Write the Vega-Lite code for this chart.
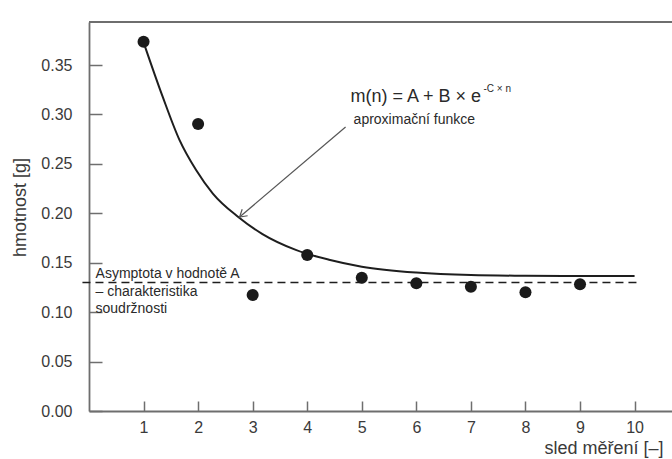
{
  "$schema": "https://vega.github.io/schema/vega-lite/v6.json",
  "width": 583,
  "height": 389,
  "autosize": {"type": "none"},
  "padding": {"left": 89, "top": 22, "right": 0, "bottom": 48},
  "background": "#ffffff",
  "config": {
    "view": {"stroke": null},
    "font": "Liberation Sans",
    "axis": {"grid": false, "labelFlush": false, "labelOverlap": false, "labelBound": false}
  },
  "datasets": {
    "measurements": [
      {"n": 1, "m": 0.3736},
      {"n": 2, "m": 0.2903},
      {"n": 3, "m": 0.1173},
      {"n": 4, "m": 0.1578},
      {"n": 5, "m": 0.1348},
      {"n": 6, "m": 0.1292},
      {"n": 7, "m": 0.1257},
      {"n": 8, "m": 0.1201},
      {"n": 9, "m": 0.1282}
    ],
    "fit": [
      {"n": 1.0, "m": 0.373},
      {"n": 1.35, "m": 0.318},
      {"n": 1.66, "m": 0.274},
      {"n": 1.96, "m": 0.244},
      {"n": 2.27, "m": 0.22},
      {"n": 2.73, "m": 0.1965},
      {"n": 3.18, "m": 0.179},
      {"n": 3.79, "m": 0.163},
      {"n": 4.4, "m": 0.153},
      {"n": 5.0, "m": 0.146},
      {"n": 6.0, "m": 0.14},
      {"n": 7.0, "m": 0.1375},
      {"n": 8.0, "m": 0.1368},
      {"n": 9.0, "m": 0.1365},
      {"n": 10.0, "m": 0.1365}
    ]
  },
  "encoding": {
    "x": {
      "field": "n",
      "type": "quantitative",
      "scale": {"domain": [0, 10.686], "nice": false, "zero": false},
      "axis": {
        "values": [1, 2, 3, 4, 5, 6, 7, 8, 9, 10],
        "tickSize": -10,
        "tickWidth": 1.5,
        "tickColor": "#6e6e6e",
        "domainColor": "#6e6e6e",
        "domainWidth": 1.8,
        "labelPadding": 18,
        "labelFontSize": 16,
        "labelColor": "#3a3a3a",
        "title": "sled měření [–]",
        "titleFontSize": 18,
        "titleFontWeight": "normal",
        "titleColor": "#3a3a3a",
        "titleX": 574,
        "titleY": 37,
        "titleAlign": "right",
        "titleBaseline": "middle",
        "titleAnchor": null
      }
    },
    "y": {
      "field": "m",
      "type": "quantitative",
      "scale": {"domain": [0, 0.3935], "nice": false, "zero": false},
      "axis": {
        "values": [0, 0.05, 0.1, 0.15, 0.2, 0.25, 0.3, 0.35],
        "format": ".2f",
        "tickSize": -13,
        "tickWidth": 1.5,
        "tickColor": "#6e6e6e",
        "domainColor": "#6e6e6e",
        "domainWidth": 1.8,
        "labelPadding": 30,
        "labelFontSize": 16,
        "labelColor": "#3a3a3a",
        "title": "hmotnost [g]",
        "titleFontSize": 18,
        "titleFontWeight": "normal",
        "titleColor": "#3a3a3a",
        "titleX": -69,
        "titleY": 185,
        "titleAngle": -90,
        "titleAlign": "center",
        "titleBaseline": "middle"
      }
    }
  },
  "layer": [
    {
      "data": {"values": [{"n": 0, "n2": 10.686, "m": 0.3935}]},
      "mark": {"type": "rule", "stroke": "#6e6e6e", "strokeWidth": 1.8},
      "encoding": {"x2": {"field": "n2"}}
    },
    {
      "data": {"values": [{"n": -0.12, "n2": 10.1, "m": 0.13}]},
      "mark": {"type": "rule", "stroke": "#1e1e1e", "strokeWidth": 1.5, "strokeDash": [8, 5]},
      "encoding": {"x2": {"field": "n2"}}
    },
    {
      "data": {"name": "fit"},
      "mark": {"type": "line", "stroke": "#1e1e1e", "strokeWidth": 2, "interpolate": "monotone"},
      "encoding": {}
    },
    {
      "data": {"values": [{"n": 4.703, "m": 0.2873, "n2": 2.76, "m2": 0.1962}]},
      "mark": {"type": "rule", "stroke": "#555555", "strokeWidth": 1.2},
      "encoding": {"x2": {"field": "n2"}, "y2": {"field": "m2"}}
    },
    {
      "data": {"values": [{"n": 2.76, "m": 0.1962}]},
      "mark": {"type": "point", "shape": "M -1 -0.6 L 0 0 L -1 0.6", "filled": false, "stroke": "#555555", "strokeWidth": 1.2, "size": 196, "angle": 139.7, "opacity": 1},
      "encoding": {}
    },
    {
      "data": {"name": "measurements"},
      "mark": {"type": "circle", "size": 145, "color": "#1a1a1a", "opacity": 1},
      "encoding": {}
    },
    {
      "data": {"values": [{"n": 4.794, "m": 0.3126, "label": "m(n) = A + B × e"}]},
      "mark": {"type": "text", "align": "left", "baseline": "alphabetic", "fontSize": 18, "color": "#2a2a2a"},
      "encoding": {"text": {"field": "label"}}
    },
    {
      "data": {"values": [{"n": 7.23, "m": 0.3227, "label": "-C × n"}]},
      "mark": {"type": "text", "align": "left", "baseline": "alphabetic", "fontSize": 10, "color": "#2a2a2a"},
      "encoding": {"text": {"field": "label"}}
    },
    {
      "data": {"values": [{"n": 4.85, "m": 0.2903, "label": "aproximační funkce"}]},
      "mark": {"type": "text", "align": "left", "baseline": "alphabetic", "fontSize": 14, "color": "#2a2a2a"},
      "encoding": {"text": {"field": "label"}}
    },
    {
      "data": {"values": [{"n": 0.12, "m": 0.1345, "label": ["Asymptota v hodnotě A", "– charakteristika", "soudržnosti"]}]},
      "mark": {"type": "text", "align": "left", "baseline": "alphabetic", "fontSize": 14, "lineHeight": 17.5, "color": "#2a2a2a"},
      "encoding": {"text": {"field": "label"}}
    }
  ]
}
